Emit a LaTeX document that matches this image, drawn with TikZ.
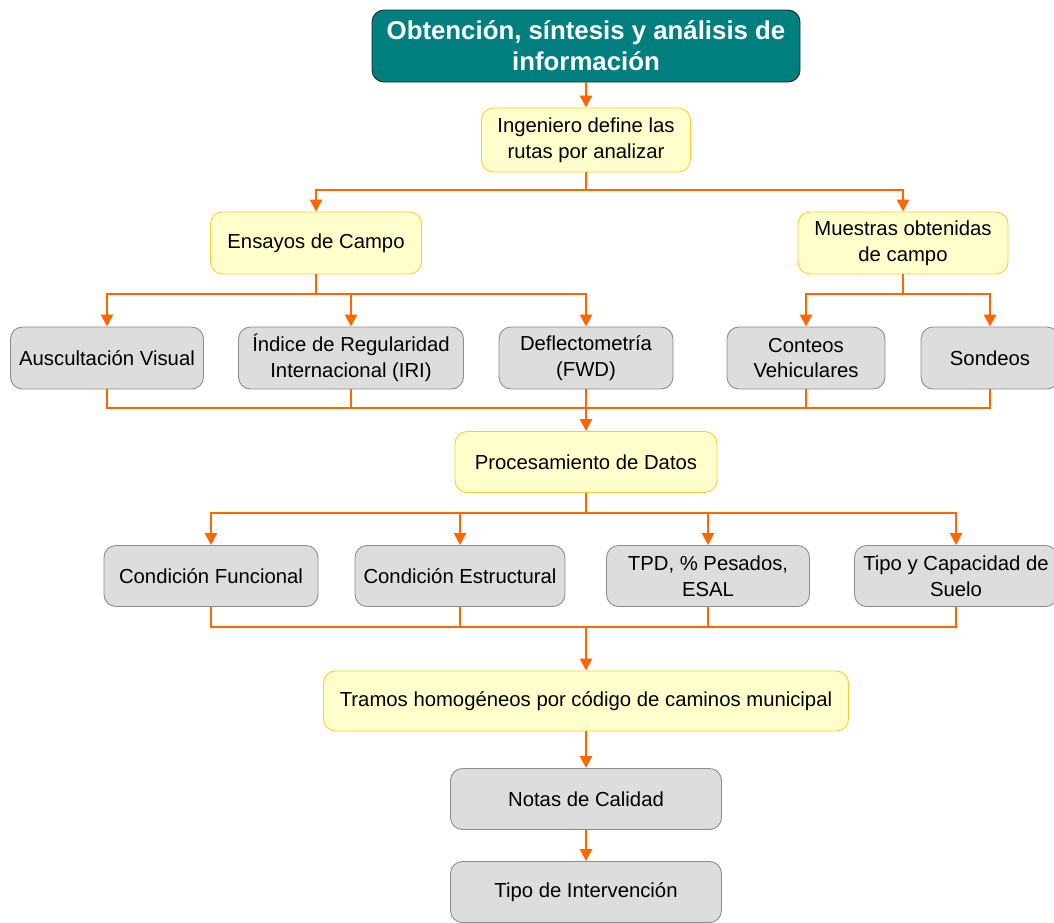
\documentclass[tikz,border=0pt]{standalone}
\usepackage{fontspec}
\setmainfont{Liberation Sans}
\usetikzlibrary{arrows.meta}
\definecolor{teal1}{HTML}{007F7F}
\definecolor{ylwfill}{HTML}{FFFFCC}
\definecolor{ylwdraw}{HTML}{FFCC33}
\definecolor{gryfill}{HTML}{DDDDDD}
\definecolor{grydraw}{HTML}{8C8C8C}
\definecolor{orng}{HTML}{FF6600}
\begin{document}
\begin{tikzpicture}[x=1pt,y=-1pt,
  base/.style={rounded corners=12pt, align=center, inner sep=0pt, line width=0.9pt,
    font=\fontsize{20.3}{25.5}\selectfont},
  titlebox/.style={base, fill=teal1, draw=black!85, text=white,
    font=\fontsize{25.8}{31}\selectfont\bfseries},
  ybox/.style={base, fill=ylwfill, draw=ylwdraw},
  gbox/.style={base, fill=gryfill, draw=grydraw},
  conn/.style={draw=orng, line width=2.5pt},
  arr/.style={conn, -{Triangle[length=12pt,width=12pt]}},
]
\useasboundingbox (0,0) rectangle (1054,922);
% nodes
\node[titlebox, minimum width=428pt, minimum height=72pt] (tit) at (586,46) {Obtención, síntesis y análisis de\\información};
\node[ybox, minimum width=209pt, minimum height=64pt] (ing) at (586,140) {Ingeniero define las\\rutas por analizar};
\node[ybox, minimum width=211pt, minimum height=62pt] (ens) at (316,243) {Ensayos de Campo};
\node[ybox, minimum width=210pt, minimum height=62pt] (mue) at (903,243) {Muestras obtenidas\\de campo};
\node[gbox, minimum width=193pt, minimum height=62pt] (aus) at (107,358) {Auscultación Visual};
\node[gbox, minimum width=225pt, minimum height=62pt] (ind) at (351,358) {Índice de Regularidad\\Internacional (IRI)};
\node[gbox, minimum width=174pt, minimum height=62pt] (def) at (586,358) {Deflectometría\\(FWD)};
\node[gbox, minimum width=158pt, minimum height=62pt] (con) at (806,358) {Conteos\\Vehiculares};
\node[gbox, minimum width=138pt, minimum height=62pt] (son) at (990,358) {Sondeos};
\node[ybox, minimum width=262pt, minimum height=61pt] (pro) at (586,462) {Procesamiento de Datos};
\node[gbox, minimum width=214pt, minimum height=61pt] (cfu) at (211,576) {Condición Funcional};
\node[gbox, minimum width=210pt, minimum height=61pt] (ces) at (460,576) {Condición Estructural};
\node[gbox, minimum width=203pt, minimum height=61pt] (tpd) at (708,576) {TPD, \% Pesados,\\ESAL};
\node[gbox, minimum width=203pt, minimum height=61pt] (tsu) at (956,576) {Tipo y Capacidad de\\Suelo};
\node[ybox, minimum width=525pt, minimum height=60pt] (tra) at (586,701) {Tramos homogéneos por código de caminos municipal};
\node[gbox, minimum width=271pt, minimum height=61pt] (not) at (586,799) {Notas de Calidad};
\node[gbox, minimum width=271pt, minimum height=61pt] (tin) at (586,892) {Tipo de Intervención};
% junction coordinates
\coordinate (j1) at (586,190);
\coordinate (j2) at (316,294);
\coordinate (j3) at (903,294);
\coordinate (m1) at (586,408);
\coordinate (j4) at (586,513);
\coordinate (m2) at (586,627);
% connectors
\draw[arr] (tit) -- (ing);
\draw[conn] (ing.south) -- (j1);
\draw[arr] (j1) -| (ens.north);
\draw[arr] (j1) -| (mue.north);
\draw[conn] (ens.south) -- (j2);
\draw[arr] (j2) -| (aus.north);
\draw[arr] (j2) -| (ind.north);
\draw[arr] (j2) -| (def.north);
\draw[conn] (mue.south) -- (j3);
\draw[arr] (j3) -| (con.north);
\draw[arr] (j3) -| (son.north);
\draw[conn] (aus.south) |- (m1);
\draw[conn] (ind.south) |- (m1);
\draw[conn] (def.south) -- (m1);
\draw[conn] (con.south) |- (m1);
\draw[conn] (son.south) |- (m1);
\draw[arr] (m1) -- (pro.north);
\draw[conn] (pro.south) -- (j4);
\draw[arr] (j4) -| (cfu.north);
\draw[arr] (j4) -| (ces.north);
\draw[arr] (j4) -| (tpd.north);
\draw[arr] (j4) -| (tsu.north);
\draw[conn] (cfu.south) |- (m2);
\draw[conn] (ces.south) |- (m2);
\draw[conn] (tpd.south) |- (m2);
\draw[conn] (tsu.south) |- (m2);
\draw[arr] (m2) -- (tra.north);
\draw[arr] (tra) -- (not);
\draw[arr] (not) -- (tin);
\end{tikzpicture}
\end{document}
